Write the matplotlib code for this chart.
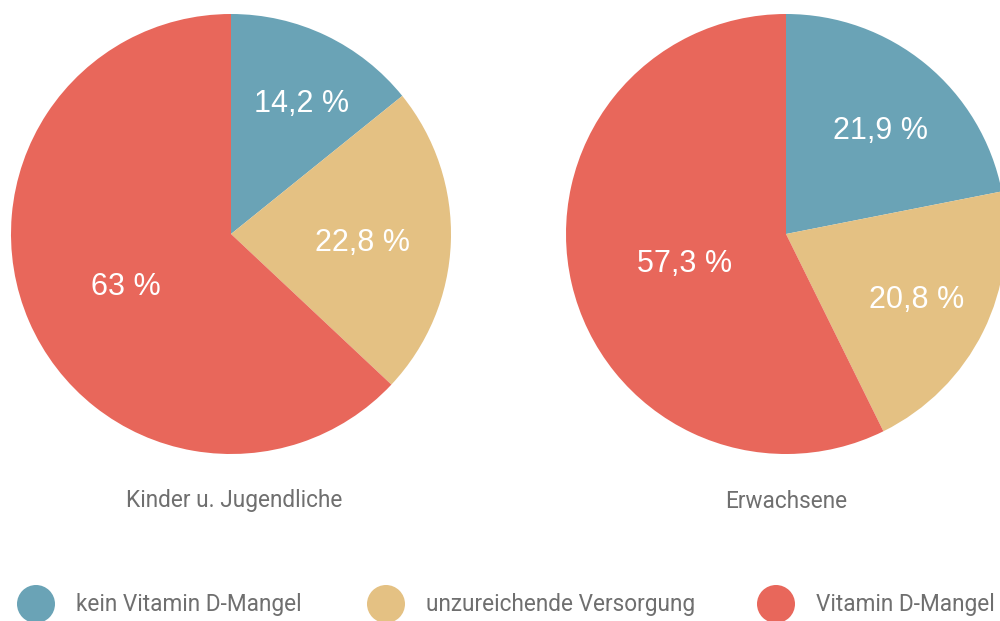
import matplotlib
matplotlib.use("Agg")
import matplotlib.pyplot as plt
from matplotlib.patches import Circle
import numpy as np

categories = ["kein Vitamin D-Mangel", "unzureichende Versorgung", "Vitamin D-Mangel"]
groups = ["Kinder u. Jugendliche", "Erwachsene"]
values_kinder = [14.2, 22.8, 63.0]
values_erw = [21.9, 20.8, 57.3]
labels_kinder = ["14,2 %", "22,8 %", "63 %"]
labels_erw = ["21,9 %", "20,8 %", "57,3 %"]
colors = ["#6AA3B6", "#E4C183", "#E8675B"]
text_gray = "#6f6f6f"

narrow = ["Liberation Sans Narrow", "Roboto", "DejaVu Sans"]
sans = ["Liberation Sans", "DejaVu Sans"]

fig = plt.figure(figsize=(10, 6.21), dpi=100)
ax = fig.add_axes([0, 0, 1, 1])

R = 220
pies = [
    (values_kinder, labels_kinder, (231, 234), [0.68, 0.57, 0.55], groups[0], 234),
    (values_erw, labels_erw, (786, 234), [0.63, 0.63, 0.50], groups[1], 786),
]
for vals, labs, center, dists, title, tx in pies:
    # y axis is inverted below, so data-counterclockwise from -90 is
    # visually clockwise from the top
    wedges, _ = ax.pie(vals, colors=colors, startangle=-90, counterclock=True,
                       center=center, radius=R, frame=True,
                       wedgeprops=dict(linewidth=0))
    for w, lab, d in zip(wedges, labs, dists):
        ang = np.deg2rad((w.theta1 + w.theta2) / 2)
        x = center[0] + d * R * np.cos(ang)
        y = center[1] + d * R * np.sin(ang)
        ax.text(x + 6, y + 1, lab, ha="center", va="center_baseline", color="white",
                fontsize=22, family=sans)
    ax.text(tx, 501, title, ha="center", va="center", color=text_gray,
            fontsize=16.3, family=narrow)

legend_x = [36, 386, 776]
for cx, cat, col in zip(legend_x, categories, colors):
    ax.add_patch(Circle((cx, 604), 19, color=col, lw=0))
    ax.text(cx + 40, 604, cat, ha="left", va="center", color=text_gray,
            fontsize=16.3, family=narrow)

ax.set_xlim(0, 1000)
ax.set_ylim(621, 0)
ax.set_aspect("equal")
ax.axis("off")

fig.savefig("out.png", dpi=100)
